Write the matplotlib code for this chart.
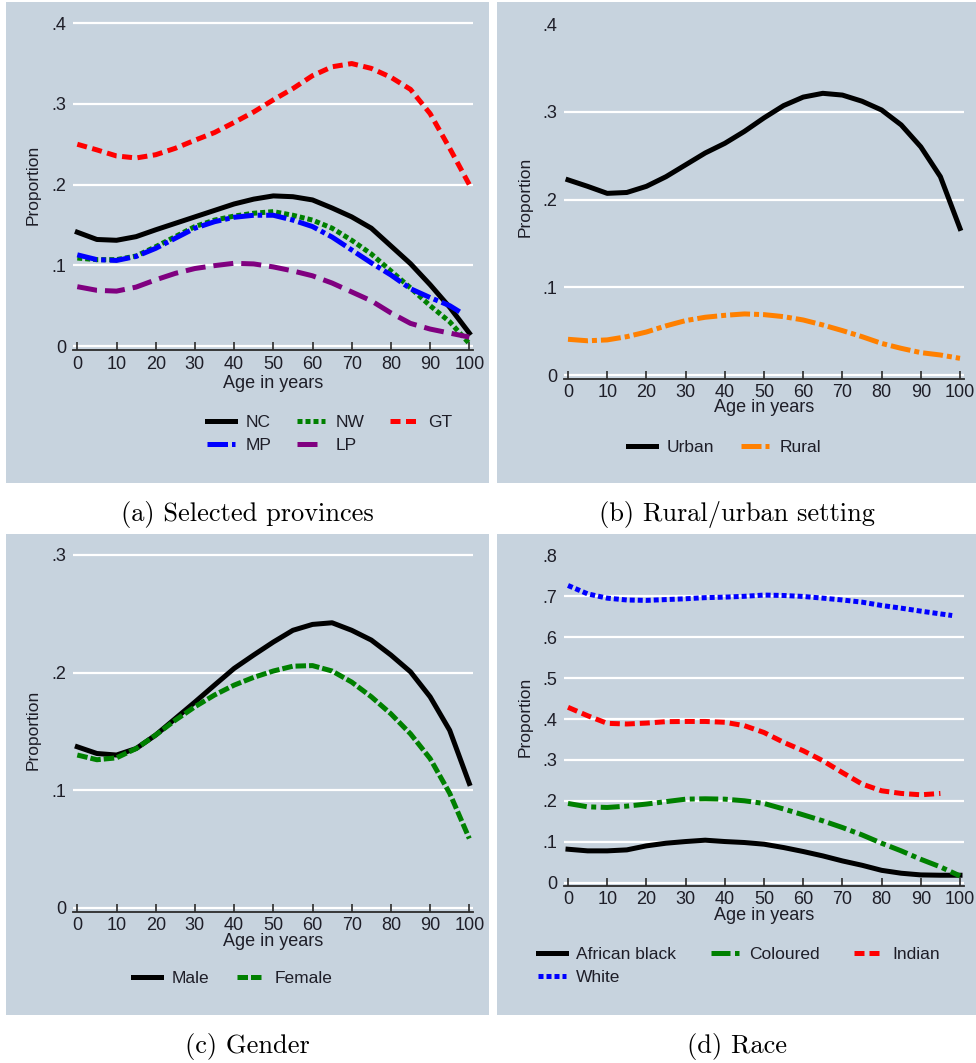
import matplotlib.pyplot as plt
from matplotlib.patches import Rectangle

W, H = 976, 1063
BG = '#c7d3de'
TXT = '#1e1e28'
AXC = '#2b2b2b'

plt.rcParams['font.family'] = ['Liberation Sans', 'DejaVu Sans']
FS = 12.5
FS_TICK = 13

# ---- data: smoothed proportion by age ----
ages = [0, 5, 10, 15, 20, 25, 30, 35, 40, 45, 50, 55, 60, 65, 70, 75, 80, 85, 90, 95, 100]

# (a) selected provinces
nc = [0.141, 0.132, 0.131, 0.1355, 0.144, 0.152, 0.160, 0.168, 0.176, 0.182, 0.186,
      0.185, 0.181, 0.171, 0.160, 0.146, 0.124, 0.102, 0.076, 0.048, 0.016]
nw = [0.109, 0.107, 0.107, 0.1115, 0.123, 0.1355, 0.148, 0.156, 0.161, 0.1645, 0.1665,
      0.162, 0.156, 0.146, 0.131, 0.114, 0.093, 0.072, 0.050, 0.030, 0.003]
gt = [0.250, 0.243, 0.2355, 0.233, 0.237, 0.245, 0.255, 0.2645, 0.277, 0.290, 0.305,
      0.319, 0.335, 0.346, 0.350, 0.344, 0.333, 0.318, 0.288, 0.245, 0.200]
mp_ages = [0, 5, 10, 15, 20, 25, 30, 35, 40, 45, 50, 55, 60, 65, 70, 75, 80, 85, 90, 95, 98]
mp = [0.113, 0.107, 0.106, 0.111, 0.121, 0.1335, 0.146, 0.154, 0.1595, 0.162, 0.162,
      0.156, 0.148, 0.135, 0.119, 0.103, 0.088, 0.071, 0.060, 0.050, 0.041]
lp = [0.0735, 0.069, 0.068, 0.073, 0.082, 0.090, 0.096, 0.0996, 0.1025, 0.1017, 0.098,
      0.093, 0.087, 0.078, 0.067, 0.056, 0.041, 0.028, 0.021, 0.016, 0.011]

# (b) rural/urban
urban = [0.2224, 0.215, 0.207, 0.208, 0.215, 0.226, 0.2395, 0.253, 0.264, 0.2776, 0.293,
         0.307, 0.3167, 0.321, 0.319, 0.312, 0.302, 0.285, 0.260, 0.226, 0.167]
rural = [0.0407, 0.039, 0.040, 0.0437, 0.049, 0.056, 0.062, 0.0658, 0.068, 0.0696, 0.0688,
         0.0665, 0.0627, 0.057, 0.0506, 0.0437, 0.036, 0.0304, 0.0255, 0.0228, 0.019]

# (c) gender
male = [0.137, 0.1313, 0.130, 0.1355, 0.147, 0.161, 0.175, 0.1894, 0.2036, 0.215, 0.226,
        0.236, 0.241, 0.2424, 0.236, 0.2277, 0.215, 0.2007, 0.1795, 0.151, 0.1058]
female = [0.130, 0.126, 0.1276, 0.1355, 0.147, 0.1596, 0.171, 0.181, 0.1894, 0.196, 0.2014,
          0.2055, 0.206, 0.2014, 0.192, 0.1795, 0.165, 0.148, 0.127, 0.0975, 0.059]

# (d) race
african = [0.0816, 0.0776, 0.0776, 0.080, 0.0898, 0.0963, 0.1004, 0.1037, 0.1004, 0.098, 0.0939,
           0.0857, 0.076, 0.0653, 0.053, 0.0424, 0.030, 0.0229, 0.0188, 0.018, 0.018]
coloured = [0.1935, 0.1853, 0.1837, 0.187, 0.192, 0.198, 0.204, 0.2049, 0.204, 0.200, 0.1935,
            0.180, 0.1657, 0.151, 0.1347, 0.1167, 0.0963, 0.0776, 0.057, 0.0384, 0.0163]
indian_ages = [0, 5, 10, 15, 20, 25, 30, 35, 40, 45, 50, 55, 60, 65, 70, 75, 80, 85, 90, 95]
indian = [0.4286, 0.408, 0.3894, 0.3878, 0.390, 0.3935, 0.394, 0.394, 0.392, 0.3837, 0.367,
          0.343, 0.3224, 0.298, 0.269, 0.241, 0.2245, 0.218, 0.2147, 0.218]
white_ages = [0, 5, 10, 15, 20, 25, 30, 35, 40, 45, 50, 55, 60, 65, 70, 75, 80, 85, 90, 95, 98]
white = [0.7265, 0.706, 0.6955, 0.691, 0.690, 0.692, 0.694, 0.6967, 0.698, 0.700, 0.703,
         0.702, 0.6996, 0.6955, 0.691, 0.6857, 0.6776, 0.671, 0.6637, 0.657, 0.653]

captions = ['(a) Selected provinces', '(b) Rural/urban setting', '(c) Gender', '(d) Race']

fig = plt.figure(figsize=(W / 100, H / 100), dpi=100)
fig.patch.set_facecolor('white')


def fx(px):
    return px / W


def fy(py):
    return 1 - py / H


def tick_fmt(v):
    if abs(v) < 1e-9:
        return '0'
    return ('%.1f' % v).lstrip('0')


def panel(bg, x0, x100, y0, yunit, ylim, yticks, grid, lab_x, lab_y, age_y):
    # grey panel box behind everything
    bx0, by0, bx1, by1 = bg
    fig.add_artist(Rectangle((fx(bx0), fy(by1)), (bx1 - bx0) / W, (by1 - by0) / H,
                             transform=fig.transFigure, facecolor=BG, edgecolor='none',
                             zorder=-1))
    xu = (x100 - x0) / 100
    left = x0 - 1 * xu
    right = x100 + 1 * xu
    top = y0 - ylim[1] * yunit
    bottom = y0 - ylim[0] * yunit
    ax = fig.add_axes([fx(left), fy(bottom), (right - left) / W, (bottom - top) / H])
    ax.set_facecolor('none')
    ax.set_xlim(-1, 101)
    ax.set_ylim(*ylim)
    for g in grid:
        ax.axhline(g, color='white', lw=1.6, zorder=0.5)
    for s in ['top', 'right', 'left']:
        ax.spines[s].set_visible(False)
    ax.spines['bottom'].set_color(AXC)
    ax.spines['bottom'].set_linewidth(1.3)
    ax.set_xticks(range(0, 101, 10))
    ax.tick_params(axis='x', direction='in', length=6, width=1.2, color=AXC,
                   labelsize=FS_TICK, labelcolor=TXT, pad=4)
    ax.set_yticks(yticks)
    ax.set_yticklabels([tick_fmt(v) for v in yticks])
    ax.tick_params(axis='y', length=0, labelsize=FS_TICK, labelcolor=TXT, pad=5)
    fig.text(fx(lab_x), fy(lab_y), 'Proportion', rotation=90, ha='center', va='center',
             fontsize=FS, color=TXT)
    fig.text(fx((x0 + x100) / 2), fy(age_y), 'Age in years', ha='center', va='center',
             fontsize=FS_TICK, color=TXT)
    return ax


def add_legend(ax, order, ncol, x_px, top_px, colsp=1.6):
    # legend fills column by column, so the order is given column-wise
    handles, labels = ax.get_legend_handles_labels()
    lookup = dict(zip(labels, handles))
    ax.legend([lookup[k] for k in order], order, ncol=ncol, loc='upper left',
              bbox_to_anchor=(fx(x_px), fy(top_px)),
              bbox_transform=fig.transFigure, frameon=False, borderpad=0,
              borderaxespad=0, handlelength=1.6, handletextpad=0.6,
              columnspacing=colsp, labelspacing=0.45, fontsize=FS, labelcolor=TXT)


LW = 3.6

# (a)
ax = panel((6, 2, 489, 483), 77.3, 469.3, 346, 807, (-0.005, 0.405),
           [0, 0.1, 0.2, 0.3, 0.4], [0, 0.1, 0.2, 0.3, 0.4], 33, 185, 383)
ax.plot(ages, nc, color='black', lw=LW, label='NC')
ax.plot(ages, nw, color='#008000', lw=LW, dashes=(1.0, 0.6), label='NW')
ax.plot(ages, gt, color='#ff0000', lw=LW, dashes=(2.0, 1.1), label='GT')
ax.plot(mp_ages, mp, color='#0000ff', lw=LW, dashes=(4.1, 0.8, 0.9, 0.8), label='MP')
ax.plot(ages, lp, color='#800080', lw=LW, dashes=(4.0, 1.6), label='LP')
add_legend(ax, ['NC', 'MP', 'NW', 'LP', 'GT'], 3, 207, 415, colsp=1.5)

# (b)
ax = panel((497, 2, 976, 483), 568, 960, 375, 877.5, (-0.004, 0.402),
           [0, 0.1, 0.2, 0.3, 0.4], [0, 0.1, 0.2, 0.3], 525, 197, 408)
ax.plot(ages, urban, color='black', lw=LW, label='Urban')
ax.plot(ages, rural, color='#ff8000', lw=LW, dashes=(4.0, 0.8, 1.0, 0.8), label='Rural')
add_legend(ax, ['Urban', 'Rural'], 2, 628, 440)

# (c)
ax = panel((6, 534, 489, 1015), 77.3, 469.3, 908, 1176.7, (-0.003, 0.302),
           [0, 0.1, 0.2, 0.3], [0, 0.1, 0.2, 0.3], 33, 730, 941)
ax.plot(ages, male, color='black', lw=LW, label='Male')
ax.plot(ages, female, color='#008000', lw=LW, dashes=(2.1, 0.6), label='Female')
add_legend(ax, ['Male', 'Female'], 2, 133, 971)

# (d)
ax = panel((497, 534, 976, 1015), 568, 960, 882.6, 409, (-0.008, 0.802),
           [0, 0.1, 0.2, 0.3, 0.4, 0.5, 0.6, 0.7, 0.8],
           [0, 0.1, 0.2, 0.3, 0.4, 0.5, 0.6, 0.7], 525, 717, 916)
ax.plot(ages, african, color='black', lw=LW, label='African black')
ax.plot(ages, coloured, color='#008000', lw=LW, dashes=(3.8, 0.9, 1.0, 0.9), label='Coloured')
ax.plot(indian_ages, indian, color='#ff0000', lw=LW, dashes=(2.0, 1.0), label='Indian')
ax.plot(white_ages, white, color='#0000ff', lw=LW, dashes=(1.0, 0.6), label='White')
add_legend(ax, ['African black', 'White', 'Coloured', 'Indian'], 3, 538, 947, colsp=2.0)

# sub-figure captions
for cap, (cx, cy) in zip(captions, [(247, 515), (737, 515), (247, 1047), (737, 1047)]):
    fig.text(fx(cx), fy(cy), cap, family='cmr10', fontsize=19, ha='center', va='center',
             color='black')

fig.savefig('out.png', dpi=100, facecolor='white')
